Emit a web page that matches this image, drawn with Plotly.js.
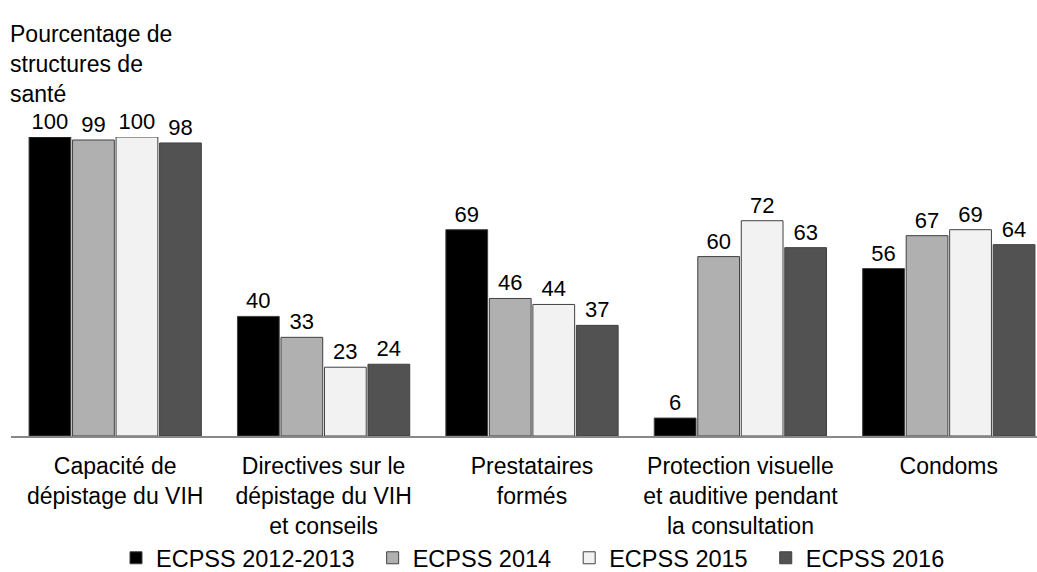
<!DOCTYPE html>
<html>
<head>
<meta charset="utf-8">
<script src="https://cdn.plot.ly/plotly-3.0.1.min.js"></script>
<style>html,body{margin:0;padding:0;background:#fff;}#chart{width:1037px;height:572px;}</style>
</head>
<body>
<div id="chart"></div>
<script>
const categories = [
  "Capacité de<br>dépistage du VIH",
  "Directives sur le<br>dépistage du VIH<br>et conseils",
  "Prestataires<br>formés",
  "Protection visuelle<br>et auditive pendant<br>la consultation",
  "Condoms"
];
const seriesNames = ["ECPSS 2012-2013", "ECPSS 2014", "ECPSS 2015", "ECPSS 2016"];
const values2012 = [100, 40, 69, 6, 56];
const values2014 = [99, 33, 46, 60, 67];
const values2015 = [100, 23, 44, 72, 69];
const values2016 = [98, 24, 37, 63, 64];
const seriesColors = ["#000000", "#b0b0b0", "#f2f2f2", "#525252"];
const yTitle = "Pourcentage de<br>structures de<br>santé";

const allValues = [values2012, values2014, values2015, values2016];
const xIdx = categories.map((c, i) => i);
const pad = "\u00a0\u00a0";
const FONT = "Liberation Sans, Arial, sans-serif";

const traces = allValues.map((vals, k) => ({
  type: "bar",
  name: seriesNames[k] + pad,
  x: xIdx,
  y: vals,
  text: vals.map(v => String(v)),
  textposition: "outside",
  textfont: {family: FONT, size: 22, color: "#000"},
  constraintext: "none",
  cliponaxis: false,
  marker: {color: seriesColors[k], line: {color: "#404040", width: 1}},
  hoverinfo: "none"
}));

const layout = {
  width: 1037, height: 572,
  margin: {l: 11, r: 0, t: 137, b: 136, pad: 0},
  paper_bgcolor: "#fff", plot_bgcolor: "#fff",
  font: {family: FONT, size: 23, color: "#000"},
  barmode: "group",
  bargap: 0.165,
  bargroupgap: 0.04,
  showlegend: true,
  title: {
    text: yTitle,
    x: 10/1037, xref: "container", xanchor: "left",
    y: 1 - 42/572, yref: "container", yanchor: "top",
    font: {family: FONT, size: 23, color: "#000"},
    automargin: false
  },
  xaxis: {
    range: [-0.5, -0.5 + 1026/208.4],
    tickvals: xIdx,
    ticktext: categories,
    showline: true, linecolor: "#888888", linewidth: 1.5,
    ticks: "", showgrid: false, zeroline: false,
    ticklabelstandoff: 9,
    tickfont: {family: FONT, size: 23, color: "#000"},
    fixedrange: true
  },
  yaxis: {
    range: [0, 100],
    visible: false, showgrid: false, zeroline: false,
    fixedrange: true
  },
  legend: {
    orientation: "h",
    xref: "container", yref: "container",
    x: 116/1037, xanchor: "left",
    y: 1 - 558/572, yanchor: "middle",
    font: {family: FONT, size: 23.5, color: "#000"},
    traceorder: "normal",
    bgcolor: "rgba(0,0,0,0)"
  }
};

Plotly.newPlot("chart", traces, layout, {displayModeBar: false, staticPlot: true});
</script>
</body>
</html>
